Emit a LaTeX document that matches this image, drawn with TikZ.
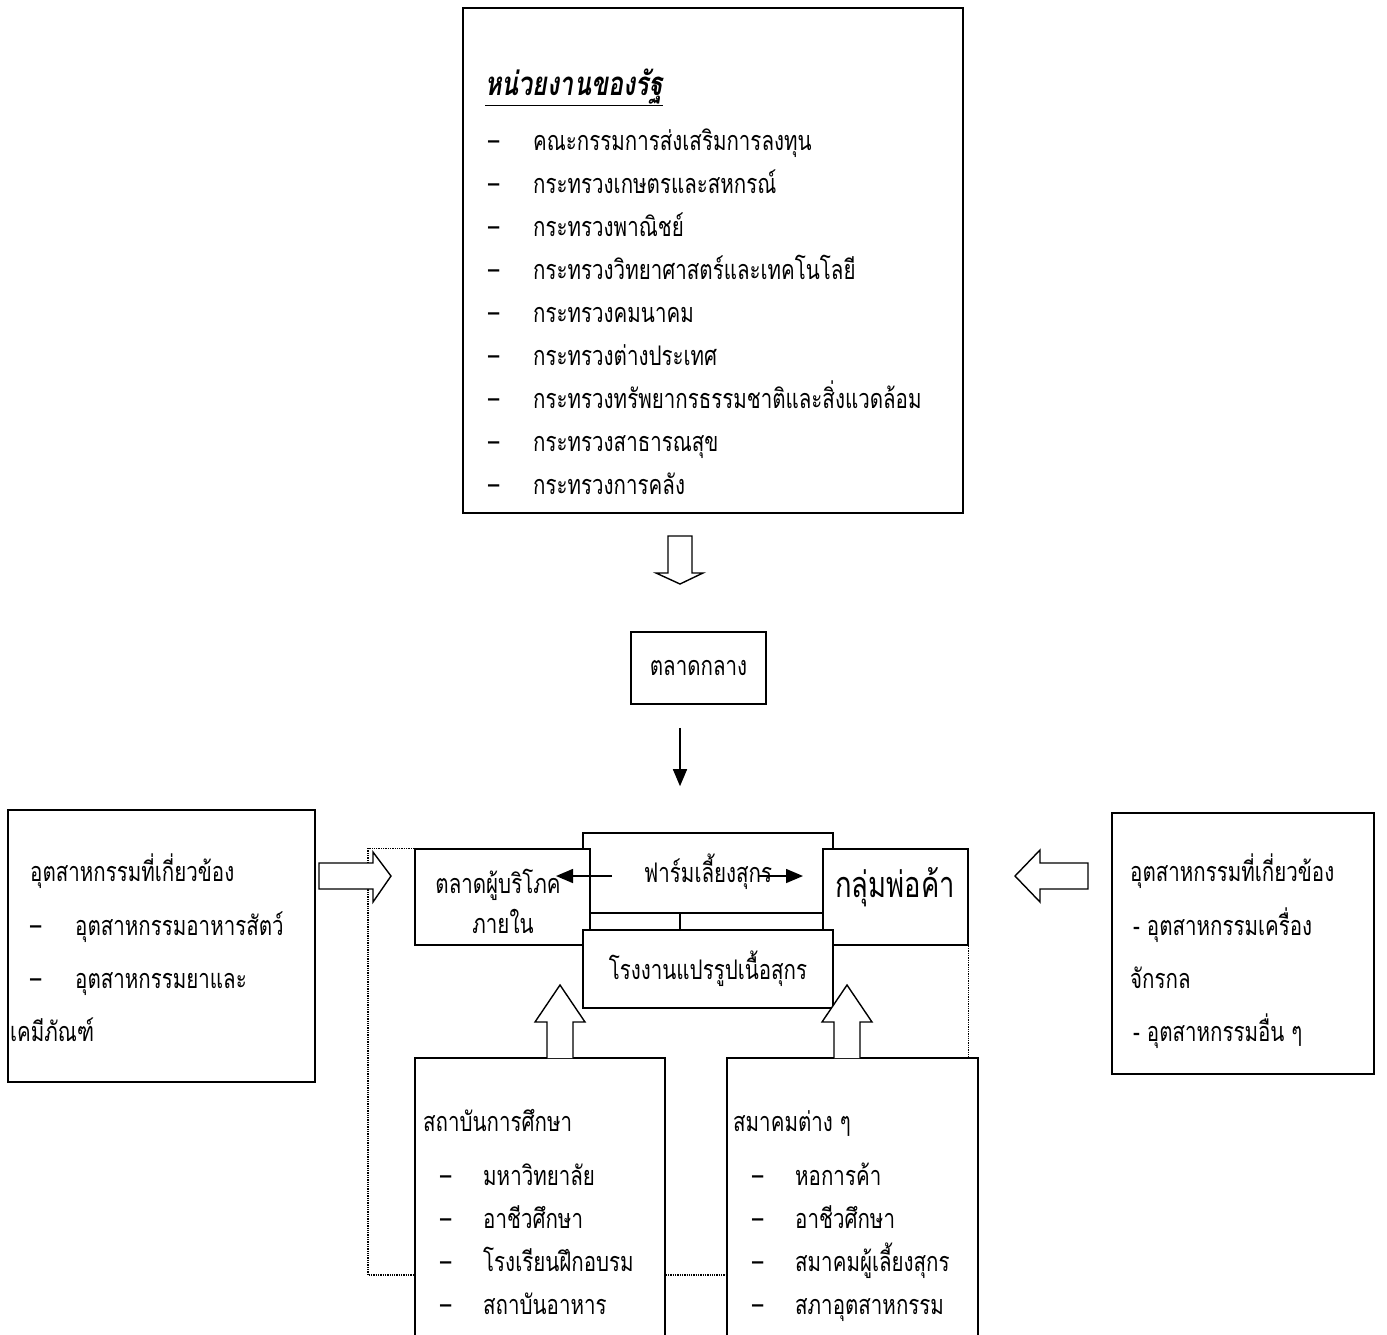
\documentclass[tikz,border=0pt]{standalone}
\usepackage{fontspec}
\newfontfamily\thaifont[Script=Thai, FakeStretch=0.76]{Loma}
\usetikzlibrary{arrows.meta}
\tikzset{ box/.style = { draw
                       , fill         = white
                       , line width   = 1.6pt
                       , inner sep    = 0pt
                       },
          txt/.style = { anchor       = base west
                       , inner sep    = 0pt
                       },
       hollow/.style = { draw
                       , fill         = white
                       , line width   = 1.4pt
                       },
         flow/.style = { line width   = 1.5pt
                       , -{Triangle[length=17pt, width=14pt]}
                       },
         link/.style = { densely dotted
                       , line width   = 1.3pt
                       }
        }

\begin{document}
\begin{tikzpicture}[x=1pt, y=-1pt, font=\thaifont\fontsize{27}{30}\selectfont]
    \clip (0,0) rectangle (1387,1334);
    % state agencies
    \node[box, minimum width=500pt, minimum height=505pt] (state) at (713,260.5) {};
    \node[txt, font=\thaifont\bfseries\itshape\fontsize{33}{36}\selectfont] (title)
         at (485,95) {\underline{หน่วยงานของรัฐ}};
    \foreach \t [count=\i from 0] in {คณะกรรมการส่งเสริมการลงทุน, กระทรวงเกษตรและสหกรณ์,
        กระทรวงพาณิชย์, กระทรวงวิทยาศาสตร์และเทคโนโลยี, กระทรวงคมนาคม,
        กระทรวงต่างประเทศ, กระทรวงทรัพยากรธรรมชาติและสิ่งแวดล้อม,
        กระทรวงสาธารณสุข, กระทรวงการคลัง} {
      \node[txt] (sd\i) at (488,150+43.1*\i) {–};
      \node[txt] (s\i)  at (533,150+43.1*\i) {\t};
    }
    \draw[hollow] (668,536) -- ++(24,0) -- ++(0,37) -- ++(11,0) -- ++(-23,11)
        -- ++(-24,-11) -- ++(12,0) -- cycle;

    \node[box, minimum width=135pt, minimum height=72pt] (mkt) at (698.5,668) {ตลาดกลาง};
    \coordinate (axis) at (680,750);

    % centre
    \node[box, minimum width=250pt, minimum height=80pt, text depth=10pt] (farm) at (708,873)
         {ฟาร์มเลี้ยงสุกร};
    \draw[flow, shorten <=23pt, shorten >=46pt] (mkt.south -| axis) -- (farm.north -| axis);
    \draw[line width=1.6pt] (farm.south -| axis) -- ++(0,17);
    \node[box, minimum width=175pt, minimum height=96pt] (cons) at (502.5,897) {};
    \node[box, minimum width=145pt, minimum height=96pt] (trade) at (895.5,897) {};
    \node[box, minimum width=250pt, minimum height=78pt] (fact) at (708,969)
         {โรงงานแปรรูปเนื้อสุกร};
    \node[anchor=base, inner sep=0pt] (c1) at (498,893) {ตลาดผู้บริโภค};
    \node[anchor=base, inner sep=0pt] (c2) at (503,933) {ภายใน};
    \node[anchor=base, inner sep=0pt, font=\thaifont\fontsize{36}{40}\selectfont] (tr)
         at (895,897) {กลุ่มพ่อค้า};
    \coordinate (fl) at (612,876);
    \coordinate (fr) at (758,876);
    \draw[flow] (fl) -- ++(-56,0);
    \draw[flow] (fr) -- ++(45,0);

    % education and associations
    \node[box, minimum width=250pt, minimum height=300pt] (edu) at (540,1208) {};
    \node[box, minimum width=251pt, minimum height=300pt] (assoc) at (852.5,1208) {};
    \draw[link] (cons.north west) -| (368,1275) -- (edu.west |- 0,1275);
    \draw[link] (edu.east |- 0,1275) -- (assoc.west |- 0,1275);
    \draw[link] (trade.south east) -- (trade.south east |- assoc.north);
    \node[txt] (e0) at (423,1131) {สถาบันการศึกษา};
    \node[txt] (a0) at (733,1131) {สมาคมต่าง ๆ};
    \foreach \t [count=\i from 0] in {มหาวิทยาลัย, อาชีวศึกษา, โรงเรียนฝึกอบรม, สถาบันอาหาร} {
      \node[txt] (ed\i) at (440,1185+43*\i) {–};
      \node[txt] (e\i)  at (483,1185+43*\i) {\t};
    }
    \foreach \t [count=\i from 0] in {หอการค้า, อาชีวศึกษา, สมาคมผู้เลี้ยงสุกร, สภาอุตสาหกรรม} {
      \node[txt] (ad\i) at (752,1185+43*\i) {–};
      \node[txt] (a\i)  at (795,1185+43*\i) {\t};
    }
    \foreach \x in {560,847} {
      \draw[hollow] (\x-13,1058) -- ++(0,-36) -- ++(-12,0) -- ++(25,-37) -- ++(25,37)
          -- ++(-12,0) -- ++(0,36);
    }

    % related industries
    \node[box, minimum width=307pt, minimum height=272pt] (indl) at (161.5,946) {};
    \node[txt] (l0) at (30,881) {อุตสาหกรรมที่เกี่ยวข้อง};
    \node[txt] (ld1) at (30,935) {–};
    \node[txt] (l1) at (75,935) {อุตสาหกรรมอาหารสัตว์};
    \node[txt] (ld2) at (30,988) {–};
    \node[txt] (l2) at (75,988) {อุตสาหกรรมยาและ};
    \node[txt] (l3) at (10,1041) {เคมีภัณฑ์};
    \draw[hollow] (319,863) -- ++(54,0) -- ++(0,-11) -- ++(18,24) -- ++(-18,26)
        -- ++(0,-13) -- ++(-54,0) -- cycle;

    \node[box, minimum width=262pt, minimum height=261pt] (indr) at (1243,943.5) {};
    \node[txt] (r0) at (1130,881) {อุตสาหกรรมที่เกี่ยวข้อง};
    \node[txt] (r1) at (1133,935) {- อุตสาหกรรมเครื่อง};
    \node[txt] (r2) at (1130,988) {จักรกล};
    \node[txt] (r3) at (1133,1041) {- อุตสาหกรรมอื่น ๆ};
    \draw[hollow] (1088,863) -- ++(-48,0) -- ++(0,-13) -- ++(-25,26) -- ++(25,26)
        -- ++(0,-13) -- ++(48,0) -- cycle;
\end{tikzpicture}
\end{document}
